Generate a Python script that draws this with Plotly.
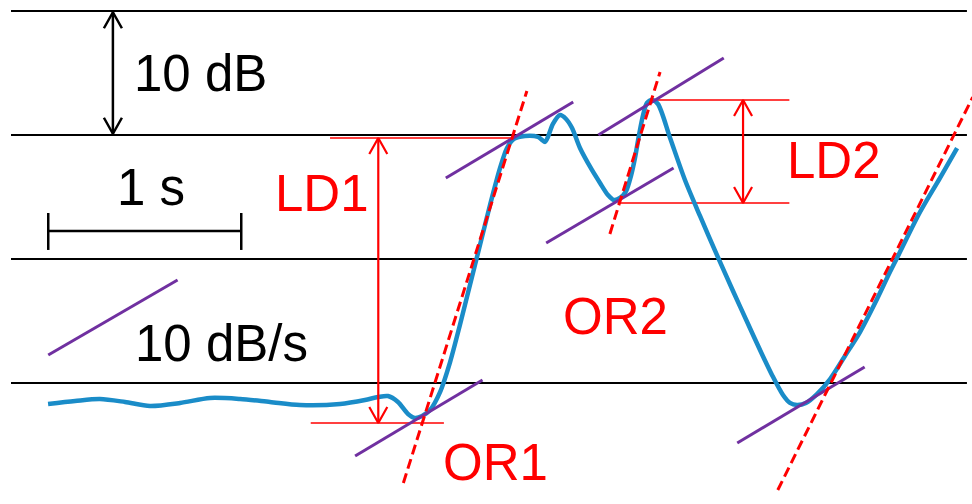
import plotly.graph_objects as go

# Scale of the sketch: 1 s of time and 10 dB of level
PX_PER_S = 193.0
PX_PER_DB = 12.4

# Level envelope of the signal (time in s, level in dB)
time_s = [0.249, 0.389, 0.518, 0.648, 0.777, 0.933, 1.088, 1.244, 1.399, 1.554, 1.762, 1.891,
          1.959, 2.010, 2.062, 2.114, 2.150, 2.187, 2.228, 2.280, 2.332, 2.383, 2.435, 2.487,
          2.539, 2.591, 2.627, 2.663, 2.720, 2.788, 2.808, 2.824, 2.839, 2.865, 2.902, 2.933,
          2.964, 3.005, 3.067, 3.109, 3.150, 3.181, 3.212, 3.244, 3.269, 3.290, 3.311, 3.332,
          3.352, 3.378, 3.409, 3.472, 3.549, 3.627, 3.715, 3.798, 3.876, 3.938, 4.000, 4.057,
          4.093, 4.130, 4.176, 4.233, 4.301, 4.378, 4.456, 4.534, 4.611, 4.663, 4.767, 4.870,
          4.959]
level_db = [-1.69, -1.45, -1.29, -1.53, -1.85, -1.61, -1.21, -1.29, -1.53, -1.77, -1.69, -1.37,
            -1.13, -1.05, -1.53, -2.50, -2.82, -2.66, -2.18, -0.73, 1.69, 4.68, 7.90, 11.13,
            14.35, 17.34, 18.95, 19.68, 19.92, 19.84, 19.60, 19.44, 19.84, 20.89, 21.61, 21.29,
            20.56, 18.95, 17.18, 16.13, 15.16, 14.76, 14.92, 15.48, 16.69, 18.15, 20.00, 21.61,
            22.58, 22.82, 22.50, 19.76, 16.37, 13.47, 10.32, 7.42, 4.76, 2.66, 0.65, -0.97,
            -1.61, -1.77, -1.61, -0.89, 0.32, 2.18, 4.11, 6.45, 8.95, 10.56, 13.79, 16.53,
            18.95]

# 10 dB/s reference slopes: key segment plus the tangents at each onset
slope_t0 = [0.25, 1.84, 2.31, 2.83, 3.10, 3.82]
slope_l0 = [2.26, -5.89, 16.53, 11.29, 20.00, -4.84]
slope_t1 = [0.92, 2.50, 2.97, 3.49, 3.75, 4.48]
slope_l1 = [8.31, 0.24, 22.66, 17.34, 26.21, 1.29]

# Steepest-rise (onset rate) lines
rise_t0 = [2.09, 3.16, 4.03]
rise_l0 = [-8.06, 12.02, -8.63]
rise_t1 = [2.73, 3.42, 5.04]
rise_l1 = [23.55, 25.08, 23.06]

# Level-difference markers: start, end, level
ld_t0 = [1.71, 1.61, 3.38, 3.20]
ld_t1 = [2.65, 2.30, 4.09, 4.09]
ld_level = [19.76, -3.23, 22.82, 14.52]

# Reference level lines
grid_levels = [0, 10, 20, 30]
grid_t = [0.057, 5.01]

# Double arrows: time, from level, to level, colour
arrows = [
    (0.585, 29.9, 20.1, "black"),
    (1.96, 19.76, -3.23, "#ff0000"),
    (3.85, 22.82, 14.52, "#ff0000"),
]

# Time scale bar (1 s)
bar_t = [0.25, 1.25]
bar_level = 12.26
bar_tick = [10.73, 13.71]

# Text labels: text, time, level, colour
labels = [
    ("10 dB", 1.04, 25.0, "black"),
    ("1 s", 0.78, 15.73, "black"),
    ("10 dB/s", 1.15, 3.15, "black"),
    ("LD1", 1.67, 15.32, "#ff0000"),
    ("LD2", 4.32, 17.98, "#ff0000"),
    ("OR1", 2.565, -6.45, "#ff0000"),
    ("OR2", 3.19, 5.40, "#ff0000"),
]

BLUE = "#1a8cc8"
PURPLE = "#7030a0"
RED = "#ff0000"
FONT = "Arial, Liberation Sans, sans-serif"

fig = go.Figure()


def seg(xs, ys, color, width, dash=None):
    fig.add_trace(go.Scatter(
        x=xs, y=ys, mode="lines", hoverinfo="skip",
        line=dict(color=color, width=width, dash=dash),
    ))


for lv in grid_levels:
    seg(grid_t, [lv, lv], "black", 2)

for t0, t1, lv in zip(ld_t0, ld_t1, ld_level):
    seg([t0, t1], [lv, lv], RED, 1.6)

# signal envelope
fig.add_trace(go.Scatter(
    x=time_s, y=level_db, mode="lines", hoverinfo="skip",
    line=dict(color=BLUE, width=4.5, shape="spline", smoothing=0.8),
))

for t0, l0, t1, l1 in zip(slope_t0, slope_l0, slope_t1, slope_l1):
    seg([t0, t1], [l0, l1], PURPLE, 3)

for t0, l0, t1, l1 in zip(rise_t0, rise_l0, rise_t1, rise_l1):
    seg([t0, t1], [l0, l1], RED, 3, dash="10px,5px")

# arrow shafts with open V heads
HEAD_LEN = 16 / PX_PER_DB
HEAD_HALF = 9 / PX_PER_S
for t, la, lb, col in arrows:
    w = 2.5 if col == "black" else 2.2
    seg([t, t], [la, lb], col, w)
    for tip, sgn in ((la, -1 if la > lb else 1), (lb, -1 if lb > la else 1)):
        seg([t - HEAD_HALF, t, t + HEAD_HALF],
            [tip + sgn * HEAD_LEN, tip, tip + sgn * HEAD_LEN], col, w)

seg(bar_t, [bar_level, bar_level], "black", 2.5)
for bt in bar_t:
    seg([bt, bt], bar_tick, "black", 2.5)

for text, t, lv, col in labels:
    fig.add_annotation(
        x=t, y=lv, text=text, showarrow=False,
        xanchor="center", yanchor="middle",
        font=dict(family=FONT, size=51, color=col),
    )

fig.update_layout(
    width=972, height=504, autosize=False,
    margin=dict(l=0, r=0, t=0, b=0, pad=0),
    paper_bgcolor="white", plot_bgcolor="white",
    showlegend=False,
    xaxis=dict(range=[0, 972 / PX_PER_S], visible=False, fixedrange=True),
    yaxis=dict(range=[(383 - 504) / PX_PER_DB, 383 / PX_PER_DB], visible=False, fixedrange=True),
)

fig.write_html("out.html", config={"displayModeBar": False})
